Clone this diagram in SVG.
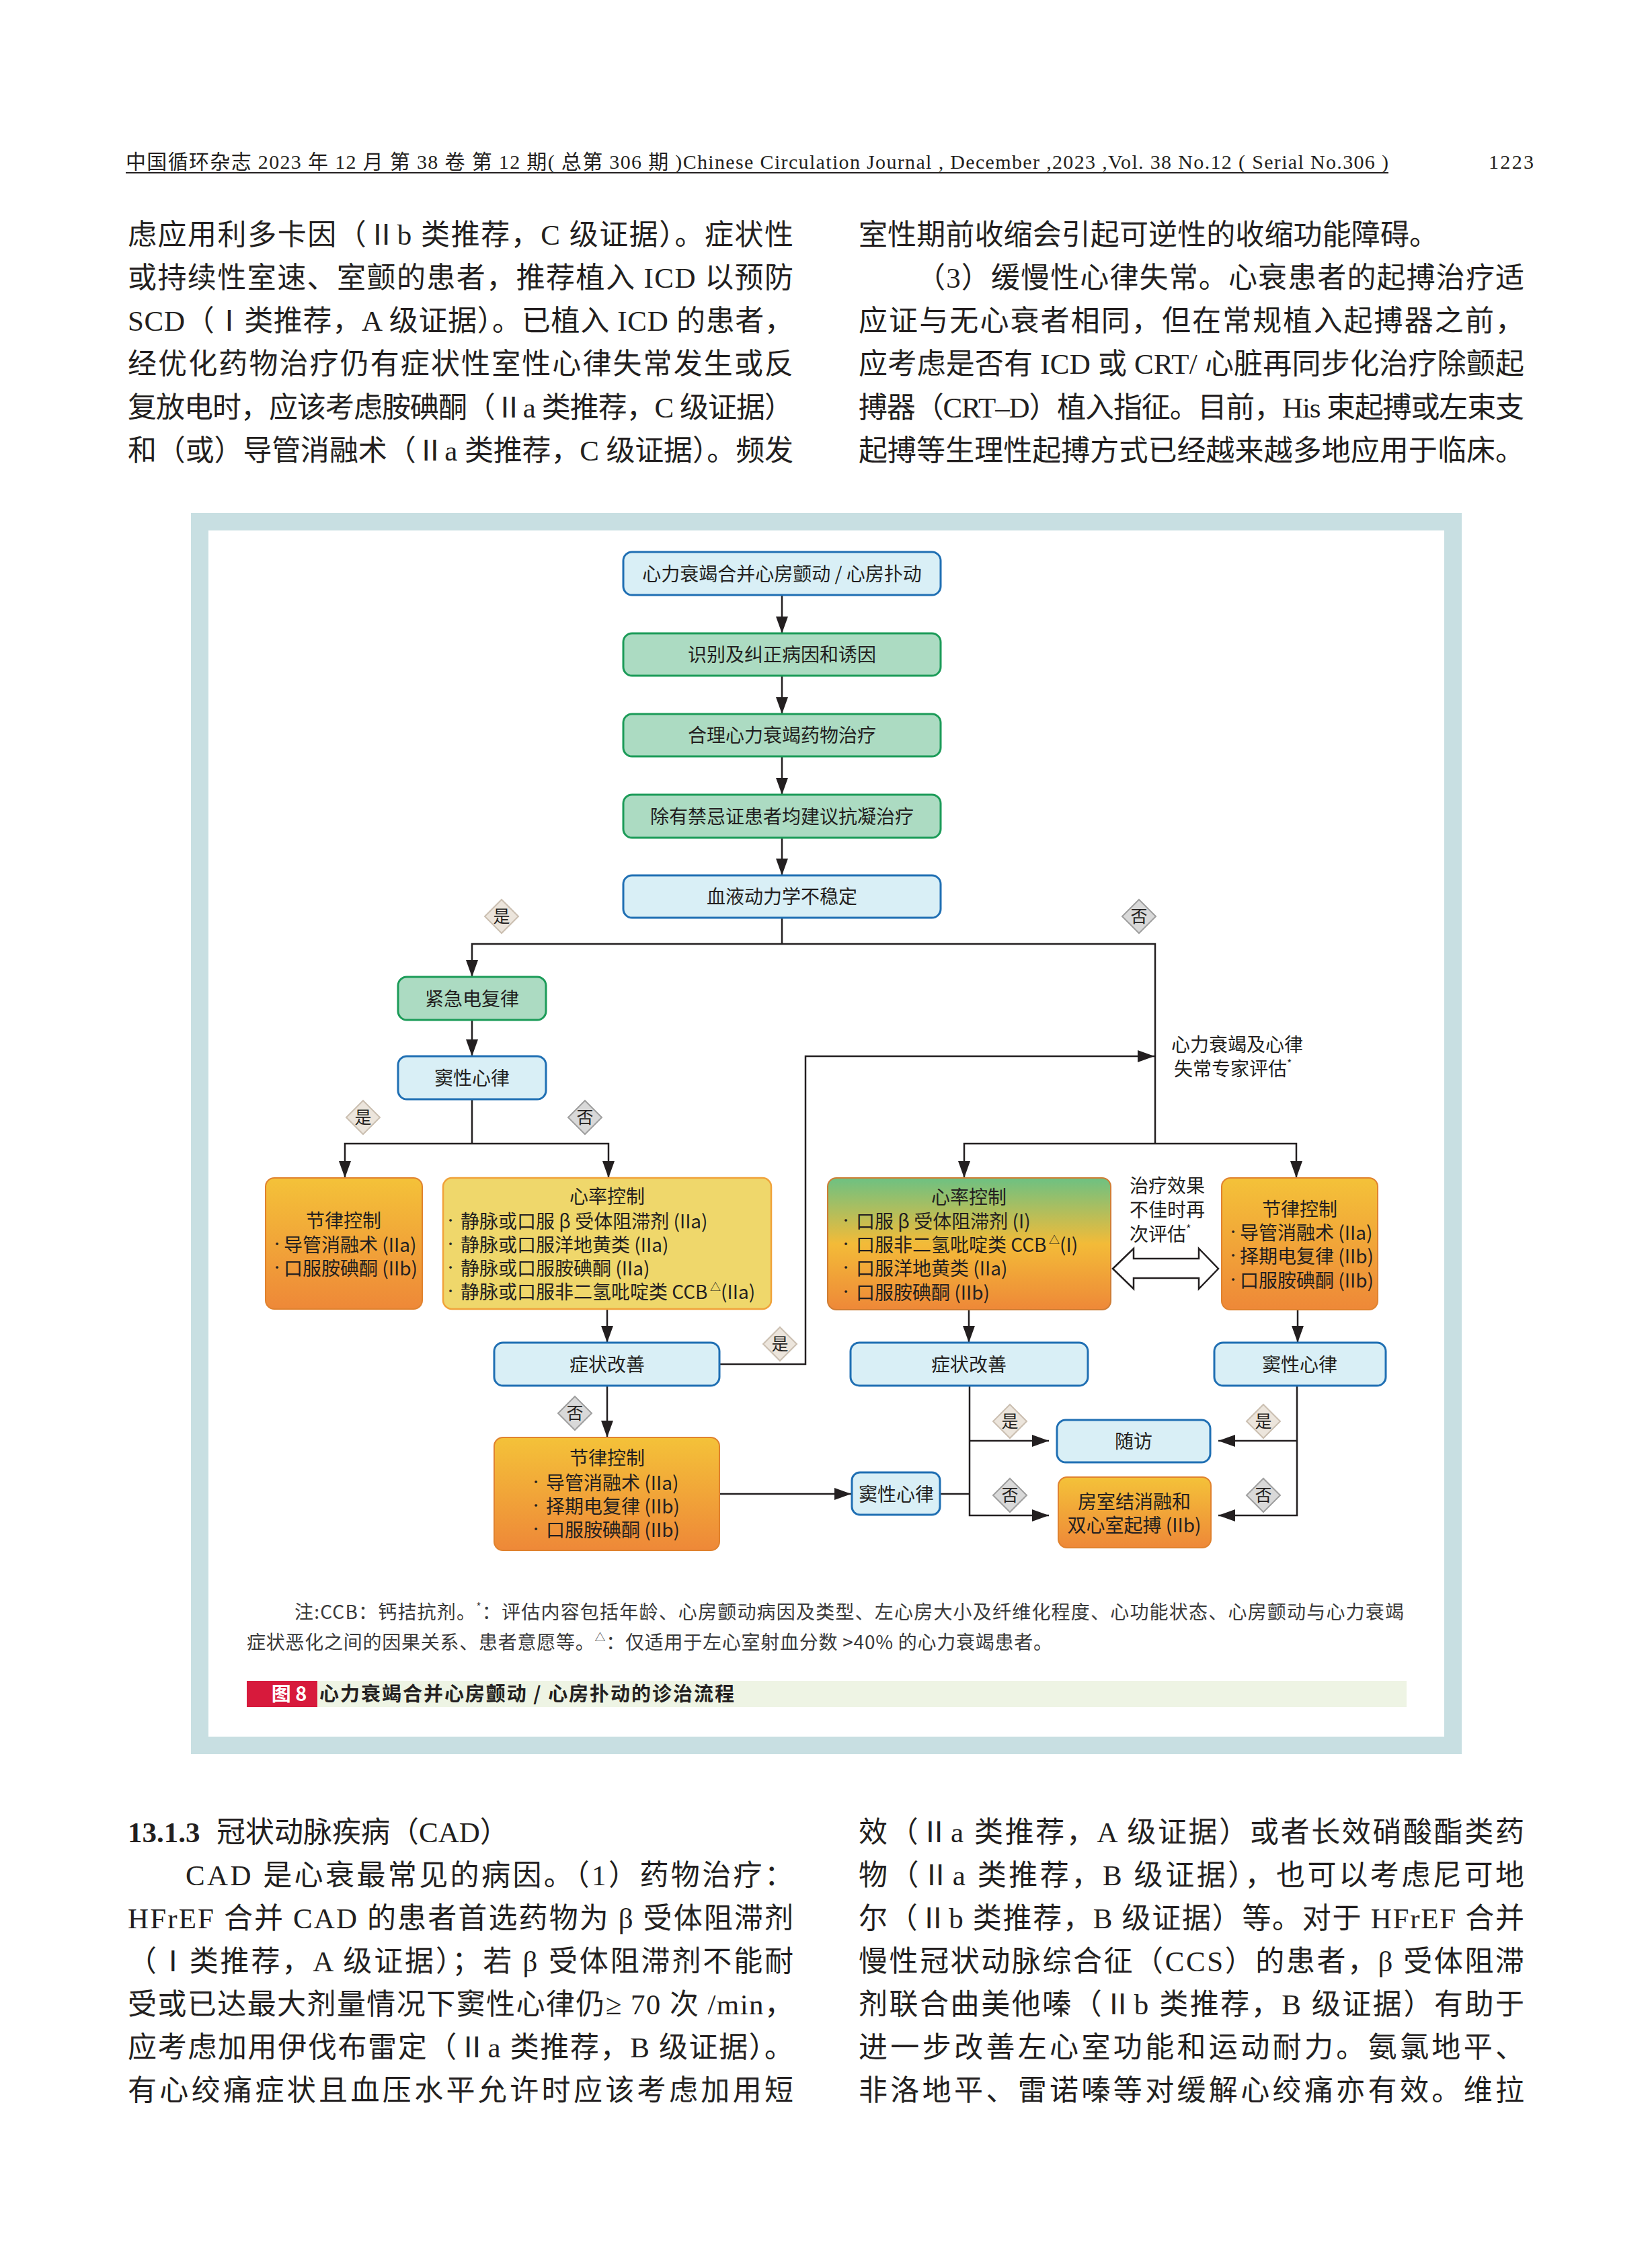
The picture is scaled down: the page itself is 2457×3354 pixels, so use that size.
<svg xmlns="http://www.w3.org/2000/svg" width="2457" height="3354" viewBox="0 0 2457 3354">
<style>
.body{font-family:"Liberation Serif","Noto Sans CJK SC",serif;font-size:43px;fill:#231f20}
.hdr{font-family:"Liberation Serif","Noto Sans CJK SC",serif;font-size:30px;fill:#231f20}
.t{font-family:"Noto Sans CJK SC",sans-serif;font-size:28px;fill:#231f20}
.b{font-family:"Noto Sans CJK SC",sans-serif;font-size:18px;fill:#231f20;text-anchor:middle}
.c{text-anchor:middle}
.dt{font-family:"Noto Sans CJK SC",sans-serif;font-size:25px;fill:#231f20;text-anchor:middle}
.note{font-family:"Noto Sans CJK SC",sans-serif;font-size:28px;fill:#3a3a3a}
.cap{font-family:"Noto Sans CJK SC",sans-serif;font-size:29px;font-weight:bold;fill:#231f20}
.blue{fill:#d9eff6;stroke:#1f6fb3;stroke-width:3}
.green{fill:#acdbc2;stroke:#1b9b58;stroke-width:3}
.orange{fill:url(#gOrange);stroke:#e0822e;stroke-width:2}
.yellow{fill:#efd76b;stroke:#f0a23a;stroke-width:2.5}
.mixed{fill:url(#gMixed);stroke:#cf7d34;stroke-width:2}
.ln{fill:none;stroke:#231f20;stroke-width:2.5}
.dyes{fill:#ece5dc;stroke:#cbbfb1;stroke-width:2}
.dno{fill:#d9d9d9;stroke:#9f9f9f;stroke-width:2}
.sup{font-size:16px}
</style>
<defs>
<linearGradient id="gOrange" x1="0" y1="0" x2="0" y2="1">
<stop offset="0" stop-color="#f4c239"/>
<stop offset="1" stop-color="#ee8838"/>
</linearGradient>
<linearGradient id="gMixed" x1="0" y1="0" x2="0" y2="1">
<stop offset="0" stop-color="#6dc182"/>
<stop offset="0.5" stop-color="#f3bb38"/>
<stop offset="1" stop-color="#ee8838"/>
</linearGradient>
<marker id="ah" markerUnits="userSpaceOnUse" markerWidth="25" markerHeight="18" refX="25" refY="9" orient="auto">
<path d="M0,0 L25,9 L0,18 z" fill="#231f20"/>
</marker>
</defs>
<rect width="2457" height="3354" fill="#ffffff"/>

<!-- page header -->
<text class="hdr" x="187" y="251" textLength="1878">中国循环杂志 2023 年 12 月 第 38 卷 第 12 期( 总第 306 期 )Chinese Circulation Journal , December ,2023 ,Vol. 38 No.12 ( Serial No.306 )</text>
<rect x="187" y="256" width="1878" height="2" fill="#231f20"/>
<text class="hdr" x="2214" y="251" font-size="33" textLength="67">1223</text>

<!-- top body text -->
<g id="body-top">
<text class="body" x="190" y="364" textLength="990">虑应用利多卡因（Ⅱb 类推荐，C 级证据）。症状性</text>
<text class="body" x="190" y="428" textLength="990">或持续性室速、室颤的患者，推荐植入 ICD 以预防</text>
<text class="body" x="190" y="492" textLength="990">SCD（Ⅰ类推荐，A 级证据）。已植入 ICD 的患者，</text>
<text class="body" x="190" y="556" textLength="990">经优化药物治疗仍有症状性室性心律失常发生或反</text>
<text class="body" x="190" y="621" textLength="990">复放电时，应该考虑胺碘酮（Ⅱa 类推荐，C 级证据）</text>
<text class="body" x="190" y="685" textLength="990">和（或）导管消融术（Ⅱa 类推荐，C 级证据）。频发</text>
<text class="body" x="1277" y="364" textLength="862">室性期前收缩会引起可逆性的收缩功能障碍。</text>
<text class="body" x="1363" y="428" textLength="904">（3）缓慢性心律失常。心衰患者的起搏治疗适</text>
<text class="body" x="1277" y="492" textLength="990">应证与无心衰者相同，但在常规植入起搏器之前，</text>
<text class="body" x="1277" y="556" textLength="990">应考虑是否有 ICD 或 CRT/ 心脏再同步化治疗除颤起</text>
<text class="body" x="1277" y="621" textLength="990">搏器（CRT–D）植入指征。目前，His 束起搏或左束支</text>
<text class="body" x="1277" y="685" textLength="990">起搏等生理性起搏方式已经越来越多地应用于临床。</text>
</g>

<!-- figure frame -->
<rect x="284" y="763" width="1890" height="1846" fill="#c8dfe2"/>
<rect x="310" y="789" width="1838" height="1794" fill="#ffffff"/>

<!-- connectors -->
<g id="connectors">
<path class="ln" d="M1163,885 V942" marker-end="url(#ah)"/>
<path class="ln" d="M1163,1005 V1062" marker-end="url(#ah)"/>
<path class="ln" d="M1163,1125 V1182" marker-end="url(#ah)"/>
<path class="ln" d="M1163,1246 V1302" marker-end="url(#ah)"/>
<path class="ln" d="M1163,1365 V1404"/>
<path class="ln" d="M1163,1404 H702 V1453" marker-end="url(#ah)"/>
<path class="ln" d="M1163,1404 H1718 V1701"/>
<path class="ln" d="M702,1517 V1571" marker-end="url(#ah)"/>
<path class="ln" d="M702,1635 V1701"/>
<path class="ln" d="M702,1701 H513 V1752" marker-end="url(#ah)"/>
<path class="ln" d="M702,1701 H905 V1752" marker-end="url(#ah)"/>
<path class="ln" d="M1718,1701 H1434 V1752" marker-end="url(#ah)"/>
<path class="ln" d="M1718,1701 H1928 V1752" marker-end="url(#ah)"/>
<path class="ln" d="M903,1947 V1997" marker-end="url(#ah)"/>
<path class="ln" d="M1070,2029 H1198 V1571 H1717" marker-end="url(#ah)"/>
<path class="ln" d="M903,2061 V2138" marker-end="url(#ah)"/>
<path class="ln" d="M1070,2222 H1266" marker-end="url(#ah)"/>
<path class="ln" d="M1441,1948 V1997" marker-end="url(#ah)"/>
<path class="ln" d="M1930,1948 V1997" marker-end="url(#ah)"/>
<path class="ln" d="M1442,2061 V2254 H1560" marker-end="url(#ah)"/>
<path class="ln" d="M1442,2143 H1560" marker-end="url(#ah)"/>
<path class="ln" d="M1398,2222 H1442"/>
<path class="ln" d="M1929,2061 V2254 H1812" marker-end="url(#ah)"/>
<path class="ln" d="M1929,2143 H1812" marker-end="url(#ah)"/>
<path d="M1655,1887 L1686,1857 L1686,1872 L1783,1872 L1783,1857 L1812,1887 L1783,1917 L1783,1901 L1686,1901 L1686,1917 Z" fill="#ffffff" stroke="#231f20" stroke-width="2.5" stroke-linejoin="miter"/>
</g>

<!-- nodes -->
<g id="n1"><rect class="blue" x="927" y="821" width="472" height="64" rx="13"/><text class="t c" x="1163" y="864">心力衰竭合并心房颤动 / 心房扑动</text></g>
<g id="n2"><rect class="green" x="927" y="942" width="472" height="63" rx="13"/><text class="t c" x="1163" y="984">识别及纠正病因和诱因</text></g>
<g id="n3"><rect class="green" x="927" y="1062" width="472" height="63" rx="13"/><text class="t c" x="1163" y="1104">合理心力衰竭药物治疗</text></g>
<g id="n4"><rect class="green" x="927" y="1182" width="472" height="64" rx="13"/><text class="t c" x="1163" y="1225">除有禁忌证患者均建议抗凝治疗</text></g>
<g id="n5"><rect class="blue" x="927" y="1302" width="472" height="63" rx="13"/><text class="t c" x="1163" y="1344">血液动力学不稳定</text></g>
<g id="n6"><rect class="green" x="592" y="1453" width="220" height="64" rx="13"/><text class="t c" x="702" y="1496">紧急电复律</text></g>
<g id="n7"><rect class="blue" x="592" y="1571" width="220" height="64" rx="13"/><text class="t c" x="702" y="1614">窦性心律</text></g>

<g id="n8"><rect class="orange" x="395" y="1752" width="233" height="195" rx="13"/>
<text class="t c" x="511" y="1826">节律控制</text>
<text class="b" x="412" y="1857">•</text><text class="t" x="422" y="1862">导管消融术 (IIa)</text>
<text class="b" x="412" y="1892">•</text><text class="t" x="422" y="1897">口服胺碘酮 (IIb)</text>
</g>
<g id="n9"><rect class="yellow" x="659" y="1752" width="488" height="195" rx="13"/>
<text class="t c" x="903" y="1790">心率控制</text>
<text class="b" x="670" y="1822">•</text><text class="t" x="685" y="1827">静脉或口服 β 受体阻滞剂 (IIa)</text>
<text class="b" x="670" y="1857">•</text><text class="t" x="685" y="1862">静脉或口服洋地黄类 (IIa)</text>
<text class="b" x="670" y="1892">•</text><text class="t" x="685" y="1897">静脉或口服胺碘酮 (IIa)</text>
<text class="b" x="670" y="1927">•</text><text class="t" x="685" y="1932">静脉或口服非二氢吡啶类 CCB<tspan class="sup" dy="-12"> △</tspan><tspan dy="12">(IIa)</tspan></text>
</g>
<g id="n10"><rect class="mixed" x="1231" y="1752" width="421" height="196" rx="13"/>
<text class="t c" x="1441" y="1791">心率控制</text>
<text class="b" x="1258" y="1822">•</text><text class="t" x="1273" y="1827">口服 β 受体阻滞剂 (I)</text>
<text class="b" x="1258" y="1857">•</text><text class="t" x="1273" y="1862">口服非二氢吡啶类 CCB<tspan class="sup" dy="-12"> △</tspan><tspan dy="12">(I)</tspan></text>
<text class="b" x="1258" y="1892">•</text><text class="t" x="1273" y="1897">口服洋地黄类 (IIa)</text>
<text class="b" x="1258" y="1928">•</text><text class="t" x="1273" y="1933">口服胺碘酮 (IIb)</text>
</g>
<g id="n11"><rect class="orange" x="1817" y="1752" width="232" height="196" rx="13"/>
<text class="t c" x="1933" y="1809">节律控制</text>
<text class="b" x="1834" y="1839">•</text><text class="t" x="1844" y="1844">导管消融术 (IIa)</text>
<text class="b" x="1834" y="1874">•</text><text class="t" x="1844" y="1879">择期电复律 (IIb)</text>
<text class="b" x="1834" y="1910">•</text><text class="t" x="1844" y="1915">口服胺碘酮 (IIb)</text>
</g>

<g id="lbl-expert"><text class="t" x="1742" y="1564">心力衰竭及心律<tspan x="1746" dy="36">失常专家评估</tspan><tspan class="sup" dy="-12">*</tspan></text></g>
<g id="lbl-reeval"><text class="t" x="1680" y="1774">治疗效果<tspan x="1680" dy="36">不佳时再</tspan><tspan x="1680" dy="36">次评估</tspan><tspan class="sup" dy="-12">*</tspan></text></g>

<g id="n12"><rect class="blue" x="735" y="1997" width="335" height="64" rx="13"/><text class="t c" x="903" y="2040">症状改善</text></g>
<g id="n13"><rect class="blue" x="1265" y="1997" width="353" height="64" rx="13"/><text class="t c" x="1441" y="2040">症状改善</text></g>
<g id="n14"><rect class="blue" x="1806" y="1997" width="255" height="64" rx="13"/><text class="t c" x="1933" y="2040">窦性心律</text></g>
<g id="n15"><rect class="orange" x="735" y="2138" width="335" height="168" rx="13"/>
<text class="t c" x="903" y="2179">节律控制</text>
<text class="b" x="797" y="2211">•</text><text class="t" x="812" y="2216">导管消融术 (IIa)</text>
<text class="b" x="797" y="2246">•</text><text class="t" x="812" y="2251">择期电复律 (IIb)</text>
<text class="b" x="797" y="2281">•</text><text class="t" x="812" y="2286">口服胺碘酮 (IIb)</text>
</g>
<g id="n16"><rect class="blue" x="1267" y="2190" width="131" height="63" rx="12"/><text class="t c" x="1333" y="2233">窦性心律</text></g>
<g id="n17"><rect class="blue" x="1572" y="2112" width="228" height="63" rx="13"/><text class="t c" x="1686" y="2154">随访</text></g>
<g id="n18"><rect class="orange" x="1574" y="2197" width="227" height="105" rx="13"/><text class="t c" x="1687" y="2244">房室结消融和<tspan x="1687" dy="35">双心室起搏 (IIb)</tspan></text></g>

<!-- decision labels -->
<g id="d1"><polygon class="dyes" points="746,1338 771,1363 746,1388 721,1363"/><text class="dt" x="746" y="1372">是</text></g>
<g id="d2"><polygon class="dno" points="1694,1338 1719,1363 1694,1388 1669,1363"/><text class="dt" x="1694" y="1372">否</text></g>
<g id="d3"><polygon class="dyes" points="540,1637 565,1662 540,1687 515,1662"/><text class="dt" x="540" y="1671">是</text></g>
<g id="d4"><polygon class="dno" points="870,1637 895,1662 870,1687 845,1662"/><text class="dt" x="870" y="1671">否</text></g>
<g id="d5"><polygon class="dyes" points="1160,1974 1185,1999 1160,2024 1135,1999"/><text class="dt" x="1160" y="2008">是</text></g>
<g id="d6"><polygon class="dno" points="855,2077 880,2102 855,2127 830,2102"/><text class="dt" x="855" y="2111">否</text></g>
<g id="d7"><polygon class="dyes" points="1502,2089 1527,2114 1502,2139 1477,2114"/><text class="dt" x="1502" y="2123">是</text></g>
<g id="d8"><polygon class="dno" points="1502,2199 1527,2224 1502,2249 1477,2224"/><text class="dt" x="1502" y="2233">否</text></g>
<g id="d9"><polygon class="dyes" points="1879,2089 1904,2114 1879,2139 1854,2114"/><text class="dt" x="1879" y="2123">是</text></g>
<g id="d10"><polygon class="dno" points="1879,2199 1904,2224 1879,2249 1854,2224"/><text class="dt" x="1879" y="2233">否</text></g>

<!-- notes -->
<text class="note" x="438" y="2408" textLength="1650">注:CCB：钙拮抗剂。<tspan class="sup" dy="-12">*</tspan><tspan dy="12">：评估内容包括年龄、心房颤动病因及类型、左心房大小及纤维化程度、心功能状态、心房颤动与心力衰竭</tspan></text>
<text class="note" x="367" y="2453" textLength="1198">症状恶化之间的因果关系、患者意愿等。<tspan class="sup" dy="-12">△</tspan><tspan dy="12">：仅适用于左心室射血分数 &gt;40% 的心力衰竭患者。</tspan></text>

<!-- caption -->
<rect x="472" y="2500" width="1620" height="39" fill="#eef4e4"/>
<rect x="367" y="2500" width="105" height="39" fill="#d71a3c"/>
<text class="cap c" x="430" y="2530" style="fill:#ffffff">图 8</text>
<text class="cap" x="475" y="2530" textLength="617">心力衰竭合并心房颤动 / 心房扑动的诊治流程</text>

<!-- bottom body text -->
<g id="body-bottom">
<text class="body" x="190" y="2740"><tspan font-weight="bold">13.1.3</tspan><tspan x="322">冠状动脉疾病（CAD）</tspan></text>
<text class="body" x="276" y="2804" textLength="904">CAD 是心衰最常见的病因。（1）药物治疗：</text>
<text class="body" x="190" y="2868" textLength="990">HFrEF 合并 CAD 的患者首选药物为 β 受体阻滞剂</text>
<text class="body" x="190" y="2932" textLength="990">（Ⅰ类推荐，A 级证据）；若 β 受体阻滞剂不能耐</text>
<text class="body" x="190" y="2996" textLength="990">受或已达最大剂量情况下窦性心律仍≥ 70 次 /min，</text>
<text class="body" x="190" y="3060" textLength="990">应考虑加用伊伐布雷定（Ⅱa 类推荐，B 级证据）。</text>
<text class="body" x="190" y="3124" textLength="990">有心绞痛症状且血压水平允许时应该考虑加用短</text>
<text class="body" x="1277" y="2740" textLength="990">效（Ⅱa 类推荐，A 级证据）或者长效硝酸酯类药</text>
<text class="body" x="1277" y="2804" textLength="990">物（Ⅱa 类推荐，B 级证据），也可以考虑尼可地</text>
<text class="body" x="1277" y="2868" textLength="990">尔（Ⅱb 类推荐，B 级证据）等。对于 HFrEF 合并</text>
<text class="body" x="1277" y="2932" textLength="990">慢性冠状动脉综合征（CCS）的患者，β 受体阻滞</text>
<text class="body" x="1277" y="2996" textLength="990">剂联合曲美他嗪（Ⅱb 类推荐，B 级证据）有助于</text>
<text class="body" x="1277" y="3060" textLength="990">进一步改善左心室功能和运动耐力。氨氯地平、</text>
<text class="body" x="1277" y="3124" textLength="990">非洛地平、雷诺嗪等对缓解心绞痛亦有效。维拉</text>
</g>
</svg>
